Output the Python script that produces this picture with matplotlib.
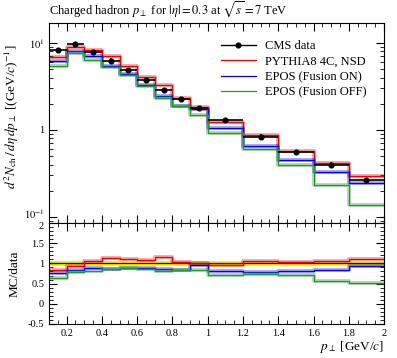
import numpy as np
import matplotlib
matplotlib.use('Agg')
from matplotlib import pyplot as plt
from matplotlib import transforms
from matplotlib.ticker import FixedLocator, MultipleLocator, FormatStrFormatter

plt.rcParams['font.family'] = 'Liberation Serif'
plt.rcParams['mathtext.fontset'] = 'stix'

# bin edges in p_perp [GeV/c]
edges = [0.1, 0.2, 0.3, 0.4, 0.5, 0.6, 0.7, 0.8, 0.9, 1.0, 1.2, 1.4, 1.6, 1.8, 2.0]

# CMS data
cms = [8.3, 9.7, 7.9, 6.27, 4.9, 3.76, 2.86, 2.27, 1.79, 1.30, 0.84, 0.56, 0.40, 0.264]
cms_relerr = [0.06, 0.06, 0.06, 0.06, 0.06, 0.06, 0.06, 0.06, 0.06, 0.06, 0.06, 0.06, 0.06, 0.06]

# MC predictions
pythia = [6.89, 9.02, 8.37, 7.09, 5.44, 4.10, 3.32, 2.34, 1.83, 1.25, 0.88, 0.58, 0.42, 0.296]
epos_on = [6.23, 8.05, 7.03, 5.45, 4.36, 3.29, 2.43, 1.91, 1.74, 1.05, 0.66, 0.45, 0.33, 0.248]
epos_off = [5.40, 7.66, 6.40, 5.33, 4.31, 3.20, 2.32, 1.88, 1.49, 0.92, 0.61, 0.40, 0.23, 0.137]

# MC / data
r_pythia = [0.83, 0.93, 1.06, 1.13, 1.11, 1.09, 1.16, 1.03, 1.02, 0.96, 1.05, 1.03, 1.06, 1.12]
r_epos_on = [0.75, 0.83, 0.89, 0.87, 0.89, 0.875, 0.85, 0.84, 0.97, 0.81, 0.79, 0.81, 0.83, 0.94]
r_epos_off = [0.65, 0.79, 0.81, 0.85, 0.88, 0.85, 0.81, 0.83, 0.83, 0.71, 0.73, 0.71, 0.57, 0.52]

ratio_ticks = [-0.5, 0, 0.5, 1, 1.5, 2]

col_py = '#ee0000'
col_on = '#0000ee'
col_off = '#22992a'

def step( ax , vals , col , lab = None ) :
    v = list( vals ) + [ vals[ -1 ] ]
    ax.step( edges , v , where = 'post' , color = col , lw = 2.8 , alpha = 0.35 )
    ax.step( edges , v , where = 'post' , color = col , lw = 0.9 , label = lab )

def style( ax ) :
    ax.tick_params( which = 'both' , direction = 'in' , top = True , right = True , labelsize = 7.5 )
    ax.tick_params( which = 'major' , length = 6 , width = 0.8 )
    ax.tick_params( which = 'minor' , length = 3 , width = 0.6 )
    ax.set_xlim( 0.1 , 2.0 )
    ax.xaxis.set_major_locator( MultipleLocator( 0.2 ) )
    ax.xaxis.set_minor_locator( MultipleLocator( 0.05 ) )
    for s in ax.spines.values() :
        s.set_linewidth( 0.8 )

def nudge( tick , dy ) :
    lab = tick.label1
    lab.set_transform( lab.get_transform() + transforms.ScaledTranslation( 0 , dy / 72 , fig.dpi_scale_trans ) )

fig = plt.figure( figsize = ( 3.97 , 3.58 ) , dpi = 100 )
main = fig.add_axes( [ 0.1234 , 0.3771 , 0.844 , 0.5587 ] )
rat = fig.add_axes( [ 0.1234 , 0.095 , 0.844 , 0.2821 ] )

# main panel
xc = [ 0.5 * ( edges[ i ] + edges[ i + 1 ] ) for i in range( len( cms ) ) ]
xw = [ 0.5 * ( edges[ i + 1 ] - edges[ i ] ) for i in range( len( cms ) ) ]
step( main , pythia , col_py )
step( main , epos_on , col_on )
step( main , epos_off , col_off )
main.errorbar( xc , cms , xerr = xw , yerr = [ c * e for c , e in zip( cms , cms_relerr ) ] ,
               fmt = 'o' , color = 'black' , ms = 3.4 , elinewidth = 1.2 , capsize = 0 , zorder = 5 )

main.set_yscale( 'log' )
main.set_ylim( 0.085 , 17 )
style( main )
main.set_xticklabels( [] )
main.yaxis.set_major_locator( FixedLocator( [ 0.1 , 1 , 10 ] ) )
main.set_yticklabels( [ '$10^{-1}$' , '1' , '$10^{1}$' ] )
main.set_ylabel( r'$d^2N_{\rm ch}\,/\,d\eta\,dp_\perp$ [(GeV/$c$)$^{-1}$]' , fontsize = 9.5 )
main.yaxis.set_label_coords( -0.085 , 0.53 )
main.text( 0.0 , 1.015 , r'Charged hadron $p_\perp$ for $|\eta| = 0.3$ at $\sqrt{s} = 7$ TeV' ,
           transform = main.transAxes , fontsize = 9.0 , ha = 'left' , va = 'bottom' )

# legend
h_d , = main.plot( [] , [] , '-o' , color = 'black' , ms = 3.4 , lw = 1.0 )
h_p , = main.plot( [] , [] , color = col_py , lw = 0.9 )
h_n , = main.plot( [] , [] , color = col_on , lw = 0.9 )
h_f , = main.plot( [] , [] , color = col_off , lw = 0.9 )
main.legend( [ h_d , h_p , h_n , h_f ] , [ 'CMS data' , 'PYTHIA8 4C, NSD' , 'EPOS (Fusion ON)' , 'EPOS (Fusion OFF)' ] ,
             loc = 'upper right' , frameon = False , fontsize = 9.0 , handlelength = 2.8 ,
             handletextpad = 0.7 , labelspacing = 0.28 , bbox_to_anchor = ( 0.98 , 0.97 ) )

# ratio panel
rat.fill_between( edges , [ 1 - e for e in cms_relerr ] + [ 1 - cms_relerr[ -1 ] ] ,
                  [ 1 + e for e in cms_relerr ] + [ 1 + cms_relerr[ -1 ] ] ,
                  step = 'post' , color = '#ffee00' , lw = 0 )
rat.plot( [ 0.1 , 2.0 ] , [ 1 , 1 ] , color = 'black' , lw = 0.9 )
step( rat , r_pythia , col_py )
step( rat , r_epos_on , col_on )
step( rat , r_epos_off , col_off )
rat.set_ylim( -0.5 , 2.0 )
style( rat )
rat.yaxis.set_major_locator( FixedLocator( ratio_ticks ) )
rat.yaxis.set_minor_locator( MultipleLocator( 0.1 ) )
rat.set_yticklabels( [ '%g' % t for t in ratio_ticks ] )
rat.xaxis.set_major_formatter( FormatStrFormatter( '%g' ) )
rat.set_ylabel( 'MC/data' , fontsize = 9.5 )
rat.yaxis.set_label_coords( -0.085 , 0.5 )
rat.set_xlabel( r'$p_\perp$ [GeV/$c$]' , fontsize = 9.5 , loc = 'right' , labelpad = 1 )

# keep the lowest decade label and the ratio's top label apart
nudge( main.yaxis.get_major_ticks()[ 0 ] , 2.5 )
nudge( rat.yaxis.get_major_ticks()[ -1 ] , -1.5 )

fig.savefig( 'out.png' , dpi = 100 )
